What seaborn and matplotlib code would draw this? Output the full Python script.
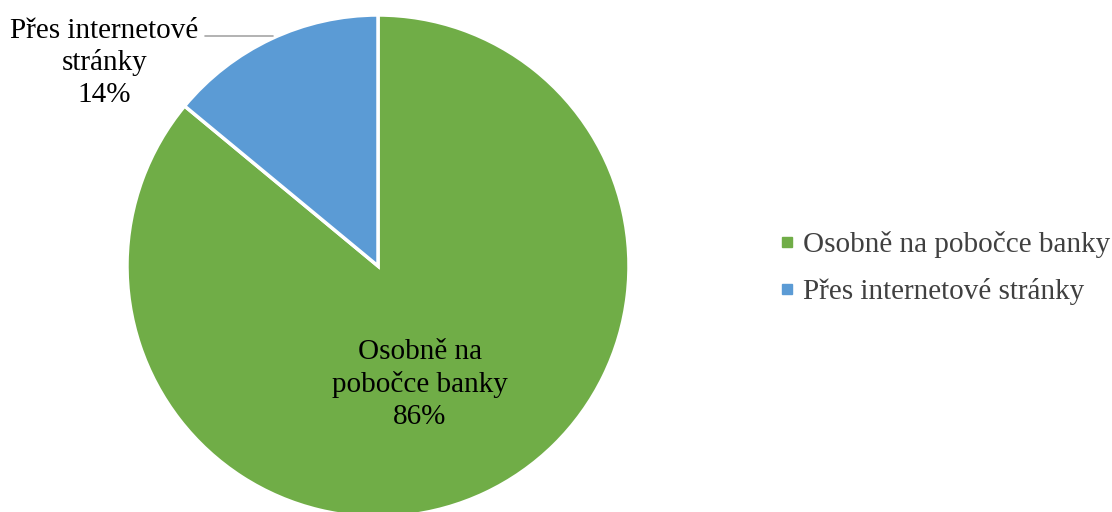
import matplotlib
matplotlib.use("Agg")
import matplotlib.pyplot as plt
import seaborn as sns
from matplotlib.lines import Line2D

categories = ["Osobně na pobočce banky", "Přes internetové stránky"]
shares = [86, 14]
slice_labels = ["Osobně na\npobočce banky\n86%", "Přes internetové\nstránky\n14%"]
colors = ["#70AD47", "#5B9BD5"]

sns.set_theme(style="white")
plt.rcParams['font.family'] = ['Liberation Serif', 'DejaVu Serif']

fig = plt.figure(figsize=(11.12, 5.12), dpi=100)
ax = fig.add_axes([127 / 1112, -5 / 512, 502 / 1112, 502 / 512])

wedges, _ = ax.pie(shares, colors=colors, startangle=90, counterclock=False,
                   radius=1.0, wedgeprops=dict(edgecolor="white", linewidth=2.5))
ax.set_xlim(-1, 1)
ax.set_ylim(-1, 1)
ax.set_aspect("equal")

# data labels
ax.text(0.167, -0.472, slice_labels[0], ha="center", va="center",
        fontsize=21, color="black", linespacing=1.27)
ax.text(-1.09, 0.81, slice_labels[1], ha="center", va="center",
        fontsize=21, color="black", linespacing=1.27, clip_on=False)
ax.plot([-0.689, -0.42], [0.916, 0.916], color="#A6A6A6", lw=1.2, clip_on=False)

handles = [Line2D([0], [0], marker="s", linestyle="", markersize=7.5,
                  markerfacecolor=c, markeredgecolor=c) for c in colors]
fig.legend(handles, categories, loc="center left", bbox_to_anchor=(769 / 1112, 1 - 268 / 512),
           frameon=False, fontsize=21, labelcolor="#404040", handlelength=0.4,
           handletextpad=0.35, labelspacing=0.68, borderaxespad=0)

fig.savefig("out.png", dpi=100)
